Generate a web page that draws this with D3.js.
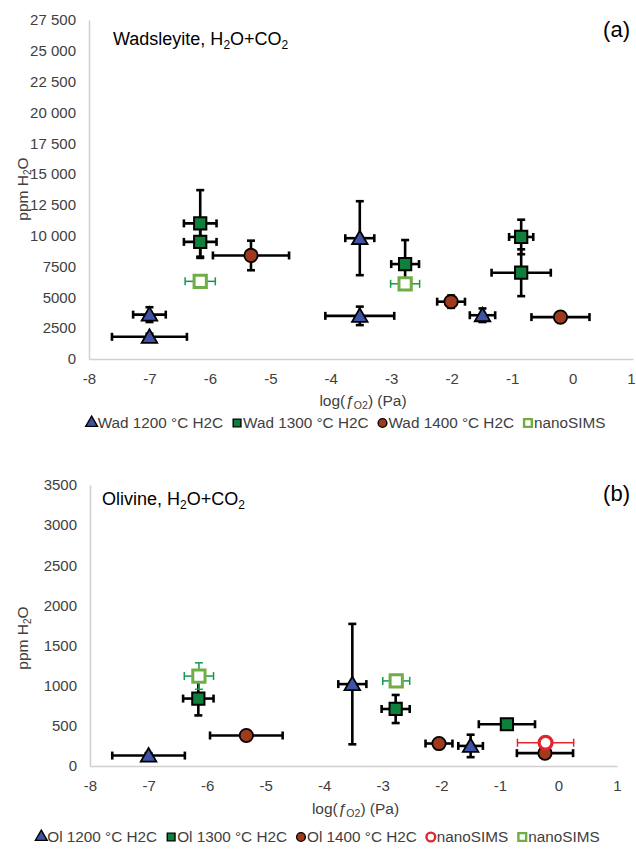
<!DOCTYPE html>
<html>
<head>
<meta charset="utf-8">
<script src="https://cdn.jsdelivr.net/npm/d3@7"></script>
<style>
  body { margin: 0; background: #fff; }
  svg { font-family: "Liberation Sans", Arial, sans-serif; }
</style>
</head>
<body>
<svg id="svg" width="636" height="856"></svg>
<script>
// rows are [log fO2, ppm H2O, x error, y error]
const wad1200 = [[-7.0, 1800, 0.62, 250], [-7.0, 3600, 0.27, 600], [-3.52, 9800, 0.24, 3000], [-3.52, 3500, 0.57, 750], [-1.49, 3550, 0.21, 550]];
const wad1300 = [[-6.16, 11000, 0.27, 2700], [-6.16, 9500, 0.27, 1300], [-2.77, 7700, 0.23, 1950], [-0.85, 9900, 0.2, 1400], [-0.85, 7000, 0.49, 1900]];
const wad1400 = [[-5.32, 8400, 0.63, 1200], [-2.01, 4650, 0.23, 500], [-0.2, 3400, 0.48, 200]];
const wadNano = [[-6.16, 6300, 0.25, 300], [-2.77, 6100, 0.24, 300]];

const ol1200 = [[-7.0, 130, 0.62, 30], [-3.52, 1020, 0.24, 750], [-1.5, 250, 0.21, 140]];
const ol1300 = [[-6.15, 840, 0.26, 210], [-2.78, 710, 0.24, 175], [-0.88, 520, 0.48, 30]];
const ol1400 = [[-5.33, 380, 0.62, 30], [-2.04, 280, 0.23, 30], [-0.23, 160, 0.48, 30]];
const olNanoRed = [[-0.22, 290, 0.48, 40]];
const olNanoGreen = [[-6.14, 1120, 0.25, 165], [-2.77, 1060, 0.23, 60]];

const xTicks = [-8, -7, -6, -5, -4, -3, -2, -1, 0, 1];
const wadYTicks = [0, 2500, 5000, 7500, 10000, 12500, 15000, 17500, 20000, 22500, 25000, 27500];
const wadYLabels = ["0", "2500", "5000", "7500", "10 000", "12 500", "15 000", "17 500", "20 000", "22 500", "25 000", "27 500"];
const olYTicks = [0, 500, 1000, 1500, 2000, 2500, 3000, 3500];

const wadLegend = ["Wad 1200 °C H2C", "Wad 1300 °C H2C", "Wad 1400 °C H2C", "nanoSIMS"];
const olLegend = ["Ol 1200 °C H2C", "Ol 1300 °C H2C", "Ol 1400 °C H2C", "nanoSIMS", "nanoSIMS"];

const svg = d3.select("#svg");

const styles = {
    tri: {sym: d3.symbolTriangle, size: 105, fill: "#3f53a6", stroke: "#000", sw: 1.8, bar: "#000", bw: 2.6, cap: 4},
    sq: {sym: d3.symbolSquare, size: 150, fill: "#0f803c", stroke: "#000", sw: 2, bar: "#000", bw: 2.6, cap: 4},
    circ: {sym: d3.symbolCircle, size: 140, fill: "#a03a1c", stroke: "#000", sw: 1.8, bar: "#000", bw: 2.6, cap: 4},
    nanoG: {sym: d3.symbolSquare, size: 150, fill: "#fff", stroke: "#70ad47", sw: 3, bar: "#139a4c", bw: 1.5, cap: 4},
    nanoR: {sym: d3.symbolCircle, size: 130, fill: "#fff", stroke: "#e0262c", sw: 3.2, bar: "#e0262c", bw: 1.5, cap: 4}
};

drawPanel({
    x0: 89, x1: 633, y0: 359, y1: 20,
    yMax: 27500, yTicks: wadYTicks, yLabels: wadYLabels,
    title: "Wadsleyite", titleX: 113, titleY: 45, tag: "(a)", tagY: 31,
    yTitleY: 189, xLabelY: 384, xTitleY: 406, legendX: 346, legendY: 423,
    series: [[wad1200, styles.tri], [wad1300, styles.sq], [wad1400, styles.circ], [wadNano, styles.nanoG]],
    legend: [[wadLegend[0], styles.tri], [wadLegend[1], styles.sq], [wadLegend[2], styles.circ], [wadLegend[3], styles.nanoG]]
});

drawPanel({
    x0: 90, x1: 617, y0: 766, y1: 485,
    yMax: 3500, yTicks: olYTicks, yLabels: olYTicks.map(String),
    title: "Olivine", titleX: 102, titleY: 505, tag: "(b)", tagY: 495,
    yTitleY: 638, xLabelY: 791, xTitleY: 814, legendX: 318, legendY: 837,
    series: [[ol1200, styles.tri], [ol1300, styles.sq], [ol1400, styles.circ], [olNanoRed, styles.nanoR], [olNanoGreen, styles.nanoG]],
    legend: [[olLegend[0], styles.tri], [olLegend[1], styles.sq], [olLegend[2], styles.circ], [olLegend[3], styles.nanoR], [olLegend[4], styles.nanoG]]
});

function drawPanel(p) {
    const x = d3.scaleLinear().domain([-8, 1]).range([p.x0, p.x1]);
    const y = d3.scaleLinear().domain([0, p.yMax]).range([p.y0, p.y1]);

    const xAxis = svg.append("g")
        .attr("transform", "translate(0," + p.y0 + ")")
        .call(d3.axisBottom(x).tickValues(xTicks).tickSize(0).tickPadding(0));
    xAxis.attr("font-size", null).attr("font-family", null);
    xAxis.select(".domain").attr("stroke", "#d0d0d0").attr("stroke-width", 1.5);
    xAxis.selectAll("text")
        .attr("y", p.xLabelY - p.y0).attr("dy", 0)
        .attr("dx", d => x(d) > 628 ? -2 : 0)
        .style("font-size", "15px").attr("fill", "#404040")
        .text(d => d < 0 ? "-" + Math.abs(d) : d);

    const yAxis = svg.append("g")
        .attr("transform", "translate(" + p.x0 + ",0)")
        .call(d3.axisLeft(y).tickValues(p.yTicks).tickSize(0).tickPadding(13)
            .tickFormat((d, i) => p.yLabels[i]));
    yAxis.attr("font-size", null).attr("font-family", null);
    yAxis.select(".domain").attr("stroke", "#d0d0d0").attr("stroke-width", 1.5);
    yAxis.selectAll("text")
        .style("font-size", "15px").attr("fill", "#404040");

    // panel title
    const t = svg.append("text").attr("x", p.titleX).attr("y", p.titleY)
        .style("font-size", "18px").attr("fill", "#000");
    t.append("tspan").text(p.title + ", H");
    t.append("tspan").style("font-size", "12px").attr("dy", 4).text("2");
    t.append("tspan").attr("dy", -4).text("O+CO");
    t.append("tspan").style("font-size", "12px").attr("dy", 4).text("2");

    svg.append("text").attr("x", 630).attr("y", p.tagY).attr("text-anchor", "end")
        .attr("dominant-baseline", "middle").style("font-size", "22px").text(p.tag);

    // y title
    const yt = svg.append("text")
        .attr("transform", "translate(28," + p.yTitleY + ") rotate(-90)")
        .attr("text-anchor", "middle").style("font-size", "15.5px").attr("fill", "#404040");
    yt.append("tspan").text("ppm H");
    yt.append("tspan").style("font-size", "10px").attr("dy", 3).text("2");
    yt.append("tspan").attr("dy", -3).text("O");

    // x title
    const xt = svg.append("text").attr("x", (p.x0 + p.x1) / 2 + 2).attr("y", p.xTitleY)
        .attr("text-anchor", "middle").style("font-size", "15.5px").attr("fill", "#404040");
    xt.append("tspan").text("log(");
    xt.append("tspan").attr("font-style", "italic").text("ƒ");
    xt.append("tspan").style("font-size", "10.5px").attr("dy", 3).text("O2");
    xt.append("tspan").attr("dy", -3).text(") (Pa)");

    // series
    p.series.forEach(([rows, s]) => {
        const g = svg.append("g");
        const bars = g.selectAll(".eb").data(rows).join("g");
        bars.append("line")
            .attr("x1", d => x(d[0] - d[2])).attr("x2", d => x(d[0] + d[2]))
            .attr("y1", d => y(d[1])).attr("y2", d => y(d[1]));
        bars.append("line")
            .attr("x1", d => x(d[0])).attr("x2", d => x(d[0]))
            .attr("y1", d => y(d[1] - d[3])).attr("y2", d => y(d[1] + d[3]));
        [-1, 1].forEach(sg => {
            bars.append("line")
                .attr("x1", d => x(d[0] + sg * d[2])).attr("x2", d => x(d[0] + sg * d[2]))
                .attr("y1", d => y(d[1]) - s.cap).attr("y2", d => y(d[1]) + s.cap);
            bars.append("line")
                .attr("x1", d => x(d[0]) - s.cap).attr("x2", d => x(d[0]) + s.cap)
                .attr("y1", d => y(d[1] + sg * d[3])).attr("y2", d => y(d[1] + sg * d[3]));
        });
        bars.selectAll("line").attr("stroke", s.bar).attr("stroke-width", s.bw);

        g.selectAll(".pt").data(rows).join("path")
            .attr("d", d3.symbol(s.sym, s.size))
            .attr("transform", d => "translate(" + x(d[0]) + "," + (y(d[1]) + (s.sym === d3.symbolTriangle ? 1.5 : 0)) + ")")
            .attr("fill", s.fill).attr("stroke", s.stroke).attr("stroke-width", s.sw);
    });

    // legend
    const lg = svg.append("g");
    let cx = 0;
    p.legend.forEach(([label, s]) => {
        const it = lg.append("g").attr("transform", "translate(" + cx + ",0)");
        it.append("path").attr("d", d3.symbol(s.sym, 60))
            .attr("transform", "translate(5,0)")
            .attr("fill", s.fill)
            .attr("stroke", s.fill === "#fff" ? s.stroke : "#000")
            .attr("stroke-width", s.fill === "#fff" ? 2.4 : 1.4);
        const tx = it.append("text").attr("x", 11).attr("dy", "0.35em")
            .style("font-size", "15.3px").attr("fill", "#404040").text(label);
        cx += 11 + tx.node().getComputedTextLength() + 9;
    });
    cx -= 9;
    lg.attr("transform", "translate(" + (p.legendX - cx / 2) + "," + p.legendY + ")");
}
</script>
</body>
</html>
